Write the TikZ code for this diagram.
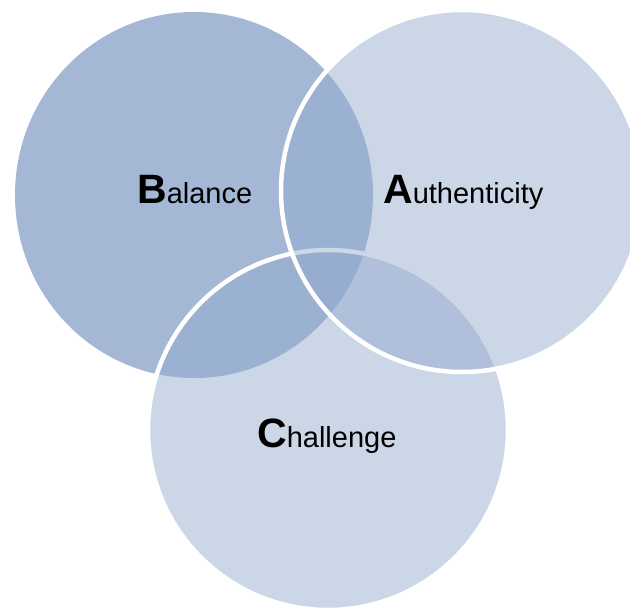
\documentclass[tikz,border=0pt]{standalone}
\usepackage{fontspec}
\setmainfont{Liberation Sans}
\definecolor{bfill}{RGB}{164,184,214}
\definecolor{vfill}{RGB}{147,170,205}
\newcommand{\bigini}[1]{{\fontsize{41}{44}\selectfont\bfseries #1}}
\newcommand{\restword}[1]{{\fontsize{29}{32}\selectfont #1}}
\begin{document}
\begin{tikzpicture}[x=1pt,y=-1pt,
  basecircle/.style={fill=bfill},
  topcircle/.style={fill=vfill, fill opacity=0.48, draw=white, line width=4.5pt},
  lbl/.style={anchor=base west, inner sep=0pt, text=black}]
\useasboundingbox (0,0) rectangle (630,610);
\fill[white] (0,0) rectangle (630,610);
\begin{scope}
\clip (0,0) rectangle (630,610);
\path[basecircle] (194,195) ellipse [x radius=179pt, y radius=183pt];
\path[topcircle] (328,430) circle [radius=180pt];
\path[topcircle] (462,191) circle [radius=181pt];
\end{scope}
\node[lbl] (bal) at (137,204) {\bigini{B}\restword{alance}};
\node[lbl] (aut) at (383,204) {\bigini{A}\restword{uthenticity}};
\node[lbl] (cha) at (257,447) {\bigini{C}\restword{hallenge}};
\end{tikzpicture}
\end{document}
